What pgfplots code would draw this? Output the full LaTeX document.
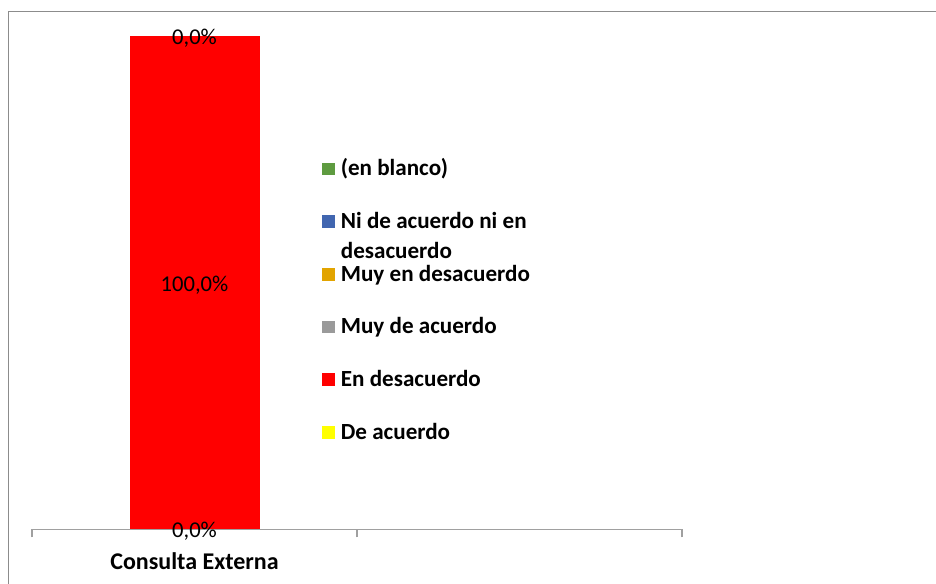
\documentclass[border=0pt]{standalone}
\usepackage{pgfplots}
\pgfplotsset{compat=1.18}
\usepackage{fontspec}
\setmainfont{Carlito}
\definecolor{cgreen}{HTML}{5E9B40}
\definecolor{cblue}{HTML}{4166B0}
\definecolor{corange}{HTML}{E2A400}
\definecolor{cgray}{HTML}{9A9A9A}
\definecolor{cred}{HTML}{FF0000}
\definecolor{cyellow}{HTML}{FFFF00}
\definecolor{frame}{HTML}{8C8C8C}
\definecolor{axisgray}{HTML}{A0A0A0}
\begin{document}
\begin{tikzpicture}
\path[use as bounding box, clip] (0pt,0pt) rectangle (468pt,291.5pt);
\draw[frame, line width=0.7pt] (4.15pt,-20pt) rectangle (520pt,285.65pt);
\begin{axis}[
  at={(16pt,26.85pt)}, anchor=south west,
  scale only axis, width=325pt, height=246.5pt,
  xmin=-0.5, xmax=1.5, ymin=0, ymax=100,
  ybar stacked, bar width=65pt,
  axis x line*=bottom, axis y line=none,
  axis line style={axisgray, line width=0.7pt},
  x axis line style={-},
  xtick={-0.5,0.5,1.5}, xticklabels={,,},
  major tick length=4pt, tick align=outside,
  tick style={axisgray, line width=0.7pt},
  ytick=\empty,
  extra x ticks={0},
  extra x tick labels={Consulta Externa},
  extra x tick style={major tick length=0pt,
    tick label style={anchor=base, yshift=-20pt, font=\fontsize{12}{14}\selectfont\bfseries}},
  clip=false,
  reverse legend,
  legend image code/.code={\fill[#1,draw=none] (0pt,0.3pt) rectangle (6.3pt,6.6pt);},
  legend style={draw=none, fill=none, inner sep=0pt, outer sep=0pt,
    at={(0.4466,0.7491)}, anchor=north west,
    row sep=15.83pt, column sep=3pt,
    font=\fontsize{11.55}{15}\selectfont\bfseries,
    cells={anchor=base west},
    nodes={inner sep=0pt, text height=8pt, text depth=2.5pt}},
]
\addplot[fill=cyellow, draw=none] coordinates {(0,0)};
\addlegendentry{De acuerdo}
\addplot[fill=cred, draw=none] coordinates {(0,100)};
\addlegendentry{En desacuerdo}
\addplot[fill=cgray, draw=none] coordinates {(0,0)};
\addlegendentry{Muy de acuerdo}
\addplot[fill=corange, draw=none] coordinates {(0,0)};
\addlegendentry{Muy en desacuerdo}
\addplot[fill=cblue, draw=none] coordinates {(0,0)};
\addlegendentry{{\begin{tabular}[t]{@{}l@{}}Ni de acuerdo ni en\\desacuerdo\end{tabular}}}
\addplot[fill=cgreen, draw=none] coordinates {(0,0)};
\addlegendentry{(en blanco)}
\end{axis}
\begin{axis}[
  at={(16pt,26.85pt)}, anchor=south west,
  scale only axis, width=325pt, height=246.5pt,
  xmin=-0.5, xmax=1.5, ymin=0, ymax=100,
  hide axis, clip=false,
]
\addplot[draw=none, mark=none, nodes near coords, point meta=explicit symbolic,
  every node near coord/.append style={anchor=center, text=black, inner sep=0pt, yshift=-1pt,
    font=\fontsize{11.3}{13}\selectfont}]
  coordinates {(0,0) [0,0\%] (0,50) [100,0\%] (0,100) [0,0\%]};
\end{axis}
\end{tikzpicture}
\end{document}
